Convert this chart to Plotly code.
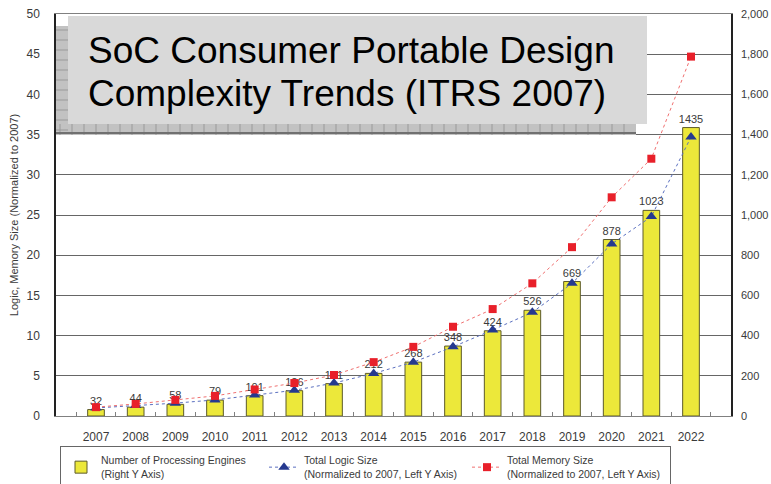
import plotly.graph_objects as go

years = [str(y) for y in range(2007, 2023)]
engines = [32, 44, 58, 79, 101, 126, 161, 212, 268, 348, 424, 526, 669, 878, 1023, 1435]
logic = [1.0, 1.3, 1.6, 2.0, 2.6, 3.2, 4.1, 5.3, 6.7, 8.6, 10.7, 12.9, 16.5, 21.4, 24.8, 34.7]
memory = [1.1, 1.5, 2.0, 2.5, 3.3, 4.1, 5.1, 6.7, 8.6, 11.1, 13.3, 16.5, 21.0, 27.2, 32.0, 44.7]

left_ticks = [0, 5, 10, 15, 20, 25, 30, 35, 40, 45, 50]
right_ticks = [0, 200, 400, 600, 800, 1000, 1200, 1400, 1600, 1800, 2000]

FONT = "Liberation Sans, Arial, sans-serif"
TXT = "#3a3a3a"

fig = go.Figure()
fig.add_trace(go.Bar(
    x=years, y=engines, name="Number of Processing Engines<br>(Right Y Axis)",
    marker=dict(color="#ece83a", line=dict(color="#5c5a2a", width=1)),
    text=[str(v) for v in engines], textposition="outside", constraintext="none",
    textfont=dict(size=11, color=TXT, family=FONT), cliponaxis=False,
    yaxis="y", width=0.42,
))
fig.add_trace(go.Scatter(
    x=years, y=logic, name="Total Logic Size<br>(Normalized to 2007, Left Y Axis)",
    mode="lines+markers", yaxis="y2",
    line=dict(color="#5a6fc0", width=1, dash="dot"),
    marker=dict(symbol="triangle-up", size=10, color="#25398f"),
))
fig.add_trace(go.Scatter(
    x=years, y=memory, name="Total Memory Size<br>(Normalized to 2007, Left Y Axis)",
    mode="lines+markers", yaxis="y2",
    line=dict(color="#f07070", width=1, dash="dot"),
    marker=dict(symbol="square", size=8, color="#e8202a"),
))

X0, W, YB, H = 56, 675, 416, 402
def px(x):
    return (x - X0) / W
def py(y):
    return (YB - y) / H

shapes = []
# hatched shadow
shapes.append(dict(type="rect", xref="paper", yref="paper", layer="above",
                   x0=px(56), x1=px(636), y0=py(135), y1=py(26),
                   fillcolor="#c2c2c2", line=dict(width=0)))
for xx in range(60, 636, 12):
    shapes.append(dict(type="line", xref="paper", yref="paper", layer="above",
                       x0=px(xx), x1=px(xx), y0=py(135), y1=py(124),
                       line=dict(color="#9a9a9a", width=1)))
for yy in range(30, 135, 10):
    shapes.append(dict(type="line", xref="paper", yref="paper", layer="above",
                       x0=px(56), x1=px(68), y0=py(yy), y1=py(yy),
                       line=dict(color="#9a9a9a", width=1)))
shapes.append(dict(type="line", xref="paper", yref="paper", layer="above",
                   x0=px(56), x1=px(636), y0=py(133), y1=py(133),
                   line=dict(color="#707070", width=2)))
# title box
shapes.append(dict(type="rect", xref="paper", yref="paper", layer="above",
                   x0=px(68), x1=px(647), y0=py(124), y1=py(16),
                   fillcolor="#d9d9d9", line=dict(width=0)))

annotations = [
    dict(text="SoC Consumer Portable Design", xref="paper", yref="paper",
         x=px(86), y=py(50), xanchor="left", yanchor="middle", showarrow=False,
         font=dict(size=37, color="#000000", family=FONT)),
    dict(text="Complexity Trends (ITRS 2007)", xref="paper", yref="paper",
         x=px(86), y=py(93), xanchor="left", yanchor="middle", showarrow=False,
         font=dict(size=37, color="#000000", family=FONT)),
]

fig.update_layout(
    width=771, height=484,
    margin=dict(l=56, r=40, t=14, b=68, autoexpand=False),
    paper_bgcolor="white", plot_bgcolor="white",
    font=dict(family=FONT, color=TXT, size=12),
    showlegend=True,
    legend=dict(orientation="h", x=px(60), y=py(446), xanchor="left", yanchor="top",
                bordercolor="#666666", borderwidth=1, bgcolor="white",
                font=dict(size=10.5, color=TXT, family=FONT),
                entrywidth=158, itemwidth=30, tracegroupgap=0),
    xaxis=dict(type="category", showline=True, linecolor="#808080", mirror=True,
               ticks="inside", tickson="boundaries", ticklen=4, tickcolor="#808080",
               tickfont=dict(size=12, color=TXT), showgrid=False, ticklabelstandoff=10),
    yaxis=dict(side="right", range=[0, 2000], tickvals=right_ticks, tickformat=",d",
               showline=True, linecolor="#222222", linewidth=1.5,
               showgrid=True, gridcolor="#666666", gridwidth=1,
               tickfont=dict(size=11, color=TXT), zeroline=False, ticklabelstandoff=6),
    yaxis2=dict(side="left", overlaying="y", range=[0, 50], tickvals=left_ticks,
                showline=True, linecolor="#222222", linewidth=1.5, showgrid=False,
                tickfont=dict(size=12, color=TXT), zeroline=False, ticklabelstandoff=12,
                title=dict(text="Logic, Memory Size (Normalized to 2007)",
                           font=dict(size=11, color=TXT), standoff=6)),
    shapes=shapes,
    annotations=annotations,
    bargap=0.58,
)

fig.write_html("out.html")
